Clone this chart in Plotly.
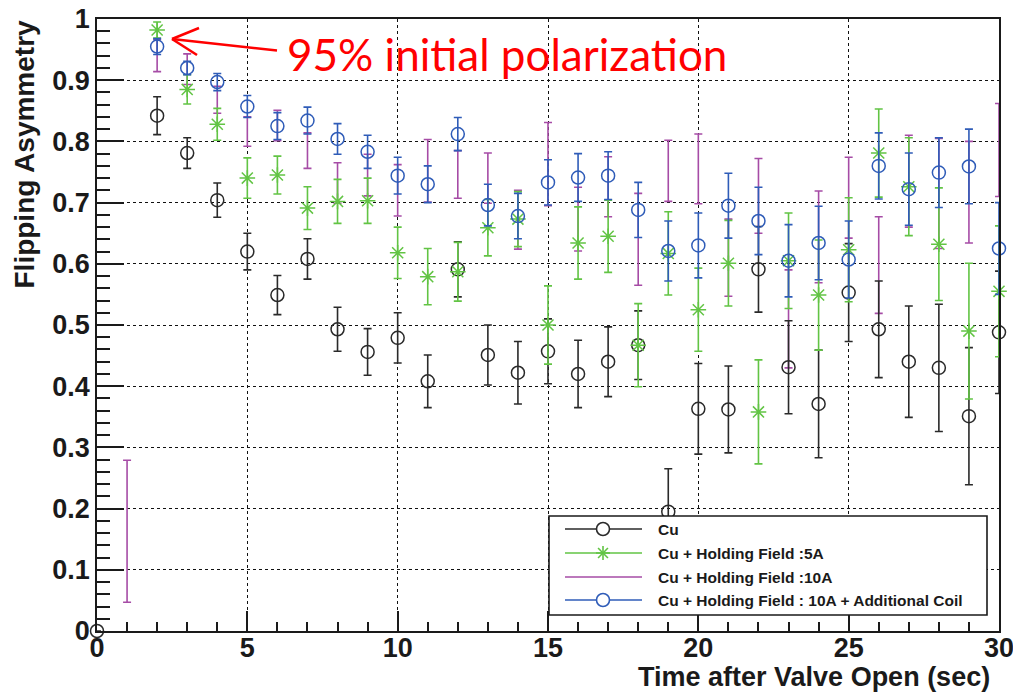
import plotly.graph_objects as go

# ---------------- data ----------------
t_cu = list(range(0, 31))
cu_val = [0.0, None, 0.842, 0.781, 0.704, 0.620, 0.549, 0.608, 0.493, 0.456, 0.479,
          0.408, 0.591, 0.451, 0.422, 0.457, 0.420, 0.440, 0.467, 0.195, 0.363,
          0.362, 0.591, 0.431, 0.371, 0.553, 0.493, 0.440, 0.430, 0.351, 0.488]
cu_err = [0.0, None, 0.031, 0.025, 0.028, 0.030, 0.032, 0.033, 0.036, 0.038, 0.041,
          0.043, 0.045, 0.049, 0.051, 0.053, 0.055, 0.057, 0.056, 0.070, 0.074,
          0.071, 0.070, 0.076, 0.088, 0.080, 0.079, 0.091, 0.104, 0.112, 0.100]

t_5a = list(range(2, 31))
h5_val = [0.982, 0.885, 0.828, 0.740, 0.745, 0.691, 0.702, 0.703, 0.618, 0.579,
          0.587, 0.659, 0.673, 0.500, 0.634, 0.645, 0.467, 0.617, 0.525, 0.601,
          0.358, 0.605, 0.549, 0.623, 0.781, 0.726, 0.632, 0.490, 0.555]
h5_err = [0.013, 0.024, 0.026, 0.033, 0.031, 0.035, 0.036, 0.037, 0.042, 0.046,
          0.048, 0.046, 0.045, 0.064, 0.059, 0.059, 0.068, 0.068, 0.068, 0.070,
          0.085, 0.078, 0.090, 0.085, 0.072, 0.080, 0.092, 0.111, 0.107]

t_10a = list(range(1, 31))
h10_val = [0.163, 0.940, 0.918, 0.868, 0.816, 0.826, 0.785, 0.732, 0.745, 0.720,
           0.752, 0.746, 0.740, 0.672, 0.763, 0.673, 0.726, 0.640, 0.752, 0.755,
           0.610, 0.711, 0.510, 0.644, 0.708, 0.598, 0.735, 0.715, 0.717, 0.786]
h10_err = [0.116, 0.026, 0.025, 0.022, 0.024, 0.025, 0.029, 0.033, 0.034, 0.042,
           0.051, 0.039, 0.041, 0.048, 0.068, 0.052, 0.049, 0.075, 0.050, 0.057,
           0.063, 0.061, 0.080, 0.075, 0.066, 0.079, 0.075, 0.090, 0.083, 0.076]

t_coil = list(range(2, 31))
coil_val = [0.955, 0.920, 0.897, 0.857, 0.825, 0.834, 0.804, 0.783, 0.744, 0.730,
            0.812, 0.696, 0.678, 0.733, 0.741, 0.744, 0.688, 0.621, 0.630, 0.695,
            0.670, 0.605, 0.634, 0.607, 0.760, 0.722, 0.749, 0.759, 0.625]
coil_err = [0.013, 0.011, 0.014, 0.018, 0.022, 0.022, 0.025, 0.027, 0.030, 0.030,
            0.027, 0.034, 0.037, 0.037, 0.039, 0.039, 0.045, 0.049, 0.053, 0.053,
            0.055, 0.059, 0.060, 0.063, 0.054, 0.059, 0.057, 0.061, 0.075]

legend_labels = ["Cu", "Cu + Holding Field :5A", "Cu + Holding Field :10A",
                 "Cu + Holding Field : 10A + Additional Coil"]

BLACK = "#2a2a2a"
GREEN = "#62c444"
PURPLE = "#a64ca6"
BLUE = "#2f5cb8"

fig = go.Figure()


def add(t, v, e, color, symbol, show_marker=True):
    fig.add_trace(go.Scatter(
        x=t, y=v, mode="markers", cliponaxis=False, showlegend=False,
        marker=dict(symbol=symbol, size=13 if show_marker else 1,
                    color=color, opacity=1 if show_marker else 0,
                    line=dict(color=color, width=1.5)),
        error_y=dict(type="data", array=e, visible=True, color=color,
                     thickness=1.6, width=4),
    ))


add(t_10a, h10_val, h10_err, PURPLE, "circle", show_marker=False)
add(t_cu, cu_val, cu_err, BLACK, "circle-open")
add(t_5a, h5_val, h5_err, GREEN, "asterisk-open")
add(t_coil, coil_val, coil_err, BLUE, "circle-open")

# ------------- layout ---------------
L, R, T, B = 97, 14, 19, 63
W, H = 1013, 694
PW, PH = W - L - R, H - T - B


def px(x):
    return (x - L) / PW


def py(y):
    return (H - B - y) / PH


tickfont = dict(family="Liberation Sans, Arial, sans-serif", size=27,
                color="#1a1a1a", weight="bold")

fig.update_layout(
    width=W, height=H,
    margin=dict(l=L, r=R, t=T, b=B, autoexpand=False),
    paper_bgcolor="white", plot_bgcolor="white",
    showlegend=False,
    xaxis=dict(range=[0, 30], dtick=5, tick0=0, ticks="inside", ticklen=20,
               tickwidth=1.5, tickcolor="#1a1a1a",
               minor=dict(ticks="inside", ticklen=9, dtick=1, tickwidth=1.5,
                          tickcolor="#1a1a1a", showgrid=False),
               showgrid=True, gridcolor="#111", griddash="dot", gridwidth=1.3,
               showline=True, linecolor="#1a1a1a", linewidth=1.6, mirror=True,
               zeroline=False, tickfont=tickfont, ticklabelstandoff=-8,
               ticklabeloverflow="allow", automargin=False),
    yaxis=dict(range=[0, 1], dtick=0.1, tick0=0, ticks="inside", ticklen=27,
               tickwidth=1.5, tickcolor="#1a1a1a",
               minor=dict(ticks="inside", ticklen=13, dtick=0.02, tickwidth=1.5,
                          tickcolor="#1a1a1a", showgrid=False),
               showgrid=True, gridcolor="#111", griddash="dot", gridwidth=1.3,
               showline=True, linecolor="#1a1a1a", linewidth=1.6, mirror=True,
               zeroline=False, tickfont=tickfont, ticklabeloverflow="allow",
               automargin=False),
)

shapes = []
annos = []

# axis titles
annos.append(dict(text="Time after Valve Open (sec)", xref="paper", yref="paper",
                  x=px(992), y=py(677), xanchor="right", yanchor="middle",
                  showarrow=False,
                  font=dict(family="Liberation Sans, Arial, sans-serif", size=27,
                            color="#1a1a1a", weight="bold")))
annos.append(dict(text="Flipping Asymmetry", xref="paper", yref="paper",
                  x=px(24), y=py(18), xanchor="center", yanchor="top",
                  textangle=-90, showarrow=False,
                  font=dict(family="Liberation Sans, Arial, sans-serif", size=28,
                            color="#1a1a1a", weight="bold")))

# red annotation
annos.append(dict(text="95% initial polarization", xref="paper", yref="paper",
                  x=px(285), y=py(54), xanchor="left", yanchor="middle",
                  showarrow=False,
                  font=dict(family="Lato, sans-serif", size=44, color="#ff0000")))
red_line = dict(color="#ff0000", width=2.5)
for (x0, y0, x1, y1) in [(277, 50.5, 172, 39), (172, 39, 199, 28), (172, 39, 197, 55)]:
    shapes.append(dict(type="line", xref="paper", yref="paper",
                       x0=px(x0), y0=py(y0), x1=px(x1), y1=py(y1),
                       line=red_line, layer="above"))

# legend box
shapes.append(dict(type="rect", xref="paper", yref="paper",
                   x0=px(549), x1=px(987), y0=py(615), y1=py(516),
                   fillcolor="white", line=dict(color="#1a1a1a", width=1.6),
                   layer="above"))
rows = [529, 553, 577, 600]
colors = [BLACK, GREEN, PURPLE, BLUE]
kinds = ["circle", "star", None, "circle"]
mx, rad = 603, 6.5
for yrow, col, kind, lab in zip(rows, colors, kinds, legend_labels):
    shapes.append(dict(type="line", xref="paper", yref="paper",
                       x0=px(565), x1=px(642), y0=py(yrow), y1=py(yrow),
                       line=dict(color=col, width=1.6), layer="above"))
    if kind == "circle":
        shapes.append(dict(type="circle", xref="paper", yref="paper",
                           x0=px(mx - rad), x1=px(mx + rad),
                           y0=py(yrow + rad), y1=py(yrow - rad),
                           fillcolor="white", line=dict(color=col, width=1.6),
                           layer="above"))
    elif kind == "star":
        r = 7
        d = r * 0.707
        for (dx, dy) in [(r, 0), (0, r), (d, d), (d, -d)]:
            shapes.append(dict(type="line", xref="paper", yref="paper",
                               x0=px(mx - dx), x1=px(mx + dx),
                               y0=py(yrow - dy), y1=py(yrow + dy),
                               line=dict(color=col, width=1.6), layer="above"))
    annos.append(dict(text=lab, xref="paper", yref="paper",
                      x=px(656), y=py(yrow), xanchor="left", yanchor="middle",
                      showarrow=False,
                      font=dict(family="Liberation Sans, Arial, sans-serif",
                                size=15.5, color="#1a1a1a", weight="bold")))

fig.update_layout(shapes=shapes, annotations=annos)

fig.write_html("out.html")
